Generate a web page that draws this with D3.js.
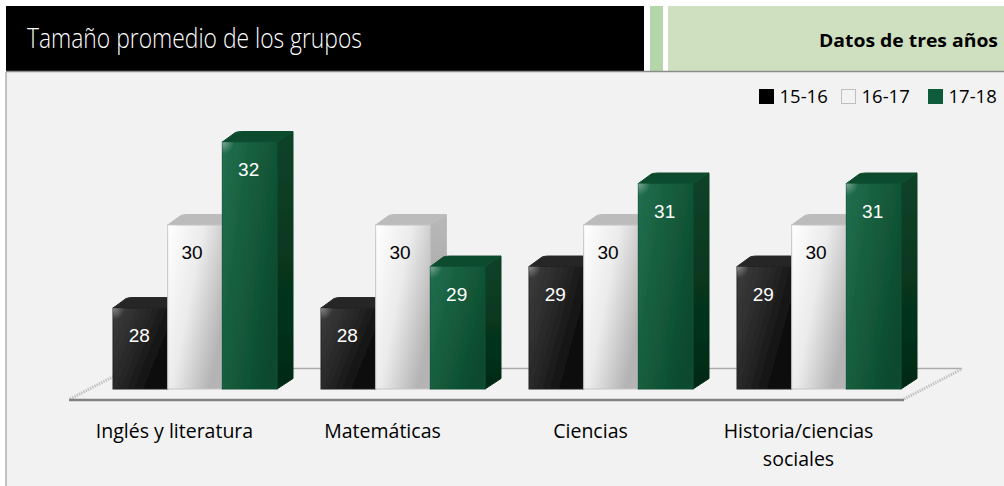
<!DOCTYPE html>
<html>
<head>
<meta charset="utf-8">
<script src="https://cdnjs.cloudflare.com/ajax/libs/d3/7.8.5/d3.min.js"></script>
<style>
  html, body { margin: 0; padding: 0; background: #fff; }
  svg { display: block; }
  text { font-family: "Open Sans", sans-serif; }
</style>
</head>
<body>
<svg id="chart"></svg>
<script>
const categories = ["Inglés y literatura", "Matemáticas", "Ciencias", "Historia/ciencias sociales"];
const years = ["15-16", "16-17", "17-18"];
const values1516 = [28, 28, 29, 29];
const values1617 = [30, 30, 30, 30];
const values1718 = [32, 29, 31, 31];
const seriesValues = [values1516, values1617, values1718];

const width = 1004, height = 486;
const depthX = 16, depthY = 10.5; // bar 3d offset

const svg = d3.select("#chart").attr("width", width).attr("height", height);
const defs = svg.append("defs");

// front and side colours per series
const palette = [
  {front: ["#3d3d3d", "#272727", "#080808"], side: ["#1a1a1a", "#050505"], top: "#262626", edge: "#222", label: "#fff", key: "#000", nudge: -1},
  {front: ["#ffffff", "#ebebeb", "#b4b4b4"], side: ["#b8b8b8", "#9a9a9a"], top: "#bcbcbc", edge: "#c4c4c4", label: "#000", key: "#f2f2f2", nudge: -3},
  {front: ["#226f4d", "#155c3c", "#0c4a2d"], side: ["#0b4328", "#032a16"], top: "#0f4b2f", edge: "#125236", label: "#fff", key: "#0e5c3c", nudge: -1}
];
palette.forEach((p, i) => {
  const g = defs.append("linearGradient").attr("id", "front" + i)
    .attr("x1", 0).attr("y1", 0).attr("x2", 1).attr("y2", 0.6);
  p.front.forEach((c, j) => g.append("stop").attr("offset", j / 2).attr("stop-color", c));
  const s = defs.append("linearGradient").attr("id", "side" + i)
    .attr("x1", 0).attr("y1", 0).attr("x2", 0).attr("y2", 1);
  p.side.forEach((c, j) => s.append("stop").attr("offset", j).attr("stop-color", c));
});
defs.append("filter").attr("id", "soft").append("feGaussianBlur").attr("stdDeviation", 0.5);
// highlight on the top left corner of a bar
const shine = defs.append("radialGradient").attr("id", "shine").attr("cx", 0).attr("cy", 0).attr("r", 1);
shine.append("stop").attr("offset", 0).attr("stop-color", "#fff").attr("stop-opacity", 0.4);
shine.append("stop").attr("offset", 1).attr("stop-color", "#fff").attr("stop-opacity", 0);

// Scales
const yScale = d3.scaleLinear().domain([26.05, 32]).range([389, 142]);
const xScale = d3.scaleBand(categories, [99, 931]).paddingInner(28 / 208).paddingOuter(14 / 208);
const xInner = d3.scaleBand(d3.range(3), [0, xScale.bandwidth() - depthX]);

// Panel
svg.append("rect").attr("x", 6).attr("y", 72).attr("width", width - 6).attr("height", height - 72).attr("fill", "#f2f2f2");
svg.append("line").attr("x1", 6).attr("x2", 6).attr("y1", 72).attr("y2", height).attr("stroke", "#8c8c8c");

// Header
svg.append("rect").attr("x", 6).attr("y", 6).attr("width", 638).attr("height", 65).attr("fill", "#000");
svg.append("rect").attr("x", 650).attr("y", 6).attr("width", 13).attr("height", 65).attr("fill", "#b5d6a8");
svg.append("rect").attr("x", 668).attr("y", 6).attr("width", 336).attr("height", 65).attr("fill", "#cfe0c0");
svg.append("line").attr("x1", 6).attr("x2", width).attr("y1", 71.5).attr("y2", 71.5).attr("stroke", "#8c8c8c").attr("stroke-width", 1.5);
svg.append("text").attr("x", 27).attr("y", 48).attr("fill", "#fff")
  .attr("font-size", 28).attr("font-weight", 300).attr("textLength", 335).attr("lengthAdjust", "spacingAndGlyphs")
  .text("Tamaño promedio de los grupos");
svg.append("text").attr("x", 819).attr("y", 47).attr("fill", "#000")
  .attr("font-size", 18).attr("font-weight", 700).attr("textLength", 179).attr("lengthAdjust", "spacingAndGlyphs")
  .text("Datos de tres años");

// Legend
const legendX = [759, 841, 928];
const legend = svg.append("g").selectAll("g").data(years).join("g")
  .attr("transform", (d, i) => `translate(${legendX[i]},0)`);
legend.append("rect").attr("x", 0.5).attr("y", 89.5).attr("width", 14).attr("height", 14)
  .attr("fill", (d, i) => palette[i].key)
  .attr("stroke", (d, i) => i === 1 ? "#bfbfbf" : palette[i].key);
legend.append("text").attr("x", 20.5).attr("y", 103).attr("font-size", 18.5).attr("fill", "#000").text(d => d);

// Floor
const floor = svg.append("g");
floor.append("line").attr("x1", 128).attr("x2", 962).attr("y1", 368.5).attr("y2", 368.5).attr("stroke", "#ababab").attr("stroke-width", 1.5);
floor.append("path").attr("d", "M70,399L128,369M904,399L962,369").attr("fill", "none").attr("stroke", "#c4c4c4").attr("stroke-width", 3).attr("stroke-dasharray", "1.5 1");
floor.append("line").attr("x1", 69).attr("x2", 904).attr("y1", 400).attr("y2", 400).attr("stroke", "#808080").attr("stroke-width", 2.5);

// Bars
const groups = svg.append("g").selectAll("g").data(categories).join("g")
  .attr("transform", d => `translate(${xScale(d)},0)`);

const bars = groups.selectAll("g").data((d, c) => seriesValues.map((s, i) => ({series: i, value: s[c]})))
  .join("g").attr("filter", "url(#soft)");

const y0 = yScale.range()[0];
const w = xInner.bandwidth();

bars.append("path") // side face
  .attr("d", d => {
    const x = xInner(d.series) + w, y = yScale(d.value);
    return `M${x},${y}L${x + depthX},${y - depthY}V${y0 - depthY}L${x},${y0}Z`;
  })
  .attr("fill", d => `url(#side${d.series})`)
  .attr("stroke", d => `url(#side${d.series})`).attr("stroke-linejoin", "round");
bars.append("path") // top face
  .attr("d", d => {
    const x = xInner(d.series), y = yScale(d.value);
    return `M${x},${y}L${x + depthX - 3},${y - depthY + 1}Q${x + depthX},${y - depthY} ${x + depthX + 3},${y - depthY}H${x + w + depthX}L${x + w},${y}Z`;
  })
  .attr("fill", d => palette[d.series].top)
  .attr("stroke", d => palette[d.series].top).attr("stroke-linejoin", "round");
bars.append("rect") // front face
  .attr("x", d => xInner(d.series))
  .attr("y", d => yScale(d.value))
  .attr("width", w)
  .attr("height", d => y0 - yScale(d.value))
  .attr("fill", d => `url(#front${d.series})`)
  .attr("stroke", d => palette[d.series].edge).attr("stroke-width", 1);
bars.append("rect") // corner highlight
  .attr("x", d => xInner(d.series))
  .attr("y", d => yScale(d.value))
  .attr("width", 12)
  .attr("height", 12)
  .attr("fill", "url(#shine)");

groups.selectAll("text.val").data((d, c) => seriesValues.map((s, i) => ({series: i, value: s[c]})))
  .join("text").attr("class", "val")
  .attr("x", d => xInner(d.series) + w / 2 + palette[d.series].nudge)
  .attr("y", d => yScale(d.value) + 34)
  .attr("text-anchor", "middle")
  .attr("font-size", 19)
  .style("font-family", '"Liberation Sans", Arial, sans-serif')
  .attr("fill", d => palette[d.series].label)
  .text(d => d.value);

// Category labels
const xAxis = d3.axisBottom(xScale).tickSize(0).tickPadding(0);
const axisG = svg.append("g").attr("transform", "translate(-28.5,424)").call(xAxis);
axisG.select(".domain").remove();
axisG.selectAll("text").attr("font-size", 19.5).attr("fill", "#000")
  .style("font-family", '"Open Sans", sans-serif')
  .each(function (d) {
    // wrap the long label onto two lines
    if (d.indexOf("/") < 0) return;
    const t = d3.select(this), parts = d.split(" ");
    t.text(null);
    parts.forEach((p, i) => t.append("tspan").attr("x", 0).attr("dy", i ? "1.44em" : "0.71em").text(p));
  });
</script>
</body>
</html>
